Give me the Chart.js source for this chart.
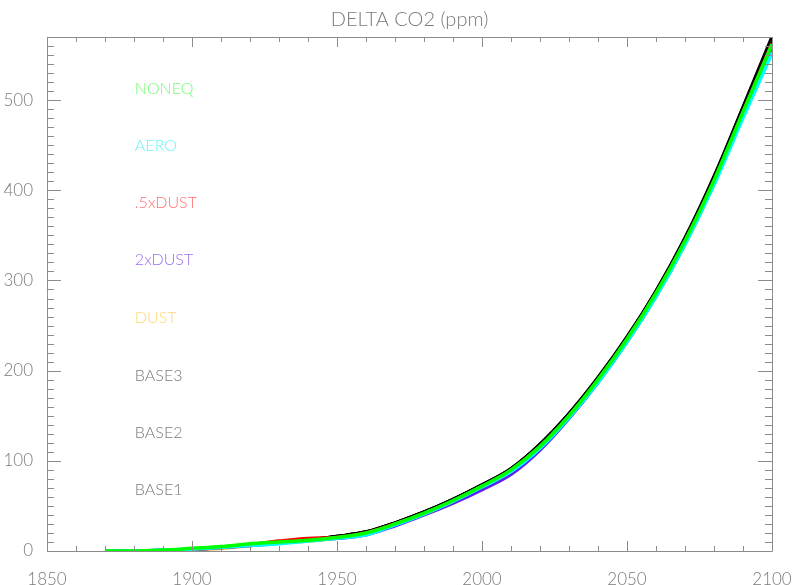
<!DOCTYPE html>
<html>
<head>
<meta charset="utf-8">
<script src="https://cdn.jsdelivr.net/npm/chart.js@4"></script>
<style>
  html, body { margin: 0; padding: 0; background: #fff; }
  #wrap { width: 794px; height: 585px; }
</style>
</head>
<body>
<div id="wrap"><canvas id="c"></canvas></div>
<script>
// years sampled every decade
const years = [1870, 1880, 1890, 1900, 1910, 1920, 1930, 1940, 1950, 1960, 1970, 1980,
  1990, 2000, 2010, 2020, 2030, 2040, 2050, 2060, 2070, 2080, 2090, 2100];

// delta CO2 (ppm)
const base1 = [0, -1, -1, 2, 4, 7, 10, 12, 16, 21, 31, 43, 57, 73, 91, 118, 152, 192, 237, 288, 347, 415, 492, 570];
const base2 = [0, -1, -1, 2, 4, 7, 10, 12, 16, 21, 31, 43, 57, 73, 91, 118, 152, 192, 237, 288, 346, 414, 491, 569];
const base3 = [0, -1, 0, 2, 4, 7, 10, 12, 16, 21, 31, 43, 57, 73, 91, 118, 152, 191, 236, 287, 346, 414, 490, 568];
const dust = [0, 0, 0, 2, 3, 6, 9, 11, 14, 19, 29, 41, 55, 71, 89, 115, 149, 188, 232, 282, 340, 407, 482, 557];
const dust2x = [0, 0, 1, 2, 4, 6, 9, 12, 14, 18, 28, 40, 53, 68, 85, 112, 147, 187, 232, 283, 341, 408, 484, 560];
const dust05 = [0, 0, 0, 2, 4, 7, 11, 14, 15, 20, 30, 41, 55, 71, 88, 115, 149, 189, 234, 285, 343, 410, 486, 563];
const aero = [0, 0, 1, 2, 4, 6, 8, 11, 14, 18, 29, 41, 55, 71, 88, 114, 148, 187, 232, 282, 340, 406, 480, 552];
const noneq = [0, 0, 1, 3, 5, 8, 10, 12, 15, 20, 30, 42, 56, 72, 90, 116, 150, 190, 235, 286, 344, 411, 487, 562];

const seriesNames = ["NONEQ", "AERO", ".5xDUST", "2xDUST", "DUST", "BASE3", "BASE2", "BASE1"];
const seriesData = [noneq, aero, dust05, dust2x, dust, base3, base2, base1];
const lineColors = ["#00ff00", "#00ffff", "#ff0000", "#5a1eff", "#ffa500", "#000000", "#000000", "#000000"];
const labelColors = ["#70ff70", "#6ff5f5", "#ff7070", "#9a6ef0", "#ffd870", "#7a7a7a", "#7a7a7a", "#7a7a7a"];

// where the in-plot names sit, in data units
const labelYear = 1880.3;
const labelValues = [513, 449, 386, 323, 259, 194, 131, 68];

const datasets = seriesNames.map((name, i) => ({
  label: name,
  data: seriesData[i].map((v, j) => ({ x: years[j], y: v })),
  borderColor: lineColors[i],
  borderWidth: 3.5,
  pointRadius: 0,
  fill: false,
  cubicInterpolationMode: "monotone",
}));

// IDL-style box with major/minor tick marks on all four sides
const boxTicks = {
  id: "boxTicks",
  afterDraw(chart) {
    const ctx = chart.ctx;
    const a = chart.chartArea;
    const xs = chart.scales.x;
    const ys = chart.scales.y;
    ctx.save();
    ctx.strokeStyle = "#8c8c8c";
    ctx.lineWidth = 1;
    ctx.beginPath();
    ctx.rect(a.left + 0.5, a.top + 0.5, a.right - a.left, a.bottom - a.top);
    xs.ticks.forEach((t) => {
      const px = Math.round(xs.getPixelForValue(t.value)) + 0.5;
      const len = t.value % 50 === 0 ? 10 : 5;
      ctx.moveTo(px, a.bottom);
      ctx.lineTo(px, a.bottom - len);
      ctx.moveTo(px, a.top);
      ctx.lineTo(px, a.top + len);
    });
    ys.ticks.forEach((t) => {
      const py = Math.round(ys.getPixelForValue(t.value)) + 0.5;
      const len = t.value % 100 === 0 ? 14 : 7;
      ctx.moveTo(a.left, py);
      ctx.lineTo(a.left + len, py);
      ctx.moveTo(a.right, py);
      ctx.lineTo(a.right - len, py);
    });
    ctx.stroke();

    // series names
    ctx.font = "300 16px Lato, 'DejaVu Sans', sans-serif";
    ctx.textAlign = "left";
    ctx.textBaseline = "middle";
    seriesNames.forEach((name, i) => {
      ctx.fillStyle = labelColors[i];
      ctx.fillText(name, xs.getPixelForValue(labelYear), ys.getPixelForValue(labelValues[i]));
    });
    ctx.restore();
  },
};

new Chart(document.getElementById("c"), {
  type: "line",
  data: { datasets },
  options: {
    responsive: true,
    maintainAspectRatio: false,
    animation: false,
    layout: { padding: { top: 0, right: 22, left: 0, bottom: 0 } },
    plugins: {
      legend: { display: false },
      tooltip: { enabled: false },
      title: {
        display: true,
        text: "DELTA CO2 (ppm)",
        fullSize: false,
        color: "#7a7a7a",
        font: { family: "Lato, 'DejaVu Sans', sans-serif", size: 20, weight: "300" },
        padding: { top: 8, bottom: 5 },
      },
    },
    scales: {
      x: {
        type: "linear",
        min: 1850,
        max: 2100,
        grid: { display: false },
        border: { display: false },
        ticks: {
          stepSize: 10,
          maxTicksLimit: 100,
          autoSkip: false,
          maxRotation: 0,
          padding: 10,
          color: "#7a7a7a",
          font: { family: "Lato, 'DejaVu Sans', sans-serif", size: 17, weight: "300" },
          callback: (v) => (v % 50 === 0 ? String(v) : ""),
        },
        afterFit: (s) => {
          s.height = 34;
          s.paddingLeft = 0;
          s.paddingRight = 0;
        },
      },
      y: {
        min: 0,
        max: 570,
        grid: { display: false },
        border: { display: false },
        ticks: {
          stepSize: 10,
          maxTicksLimit: 100,
          autoSkip: false,
          padding: 6,
          color: "#7a7a7a",
          font: { family: "Lato, 'DejaVu Sans', sans-serif", size: 17, weight: "300" },
          callback: (v) => (v % 100 === 0 ? String(v) : ""),
        },
        afterFit: (s) => {
          s.width = 47;
          s.paddingTop = 0;
          s.paddingBottom = 0;
        },
      },
    },
  },
  plugins: [boxTicks],
});
</script>
</body>
</html>
